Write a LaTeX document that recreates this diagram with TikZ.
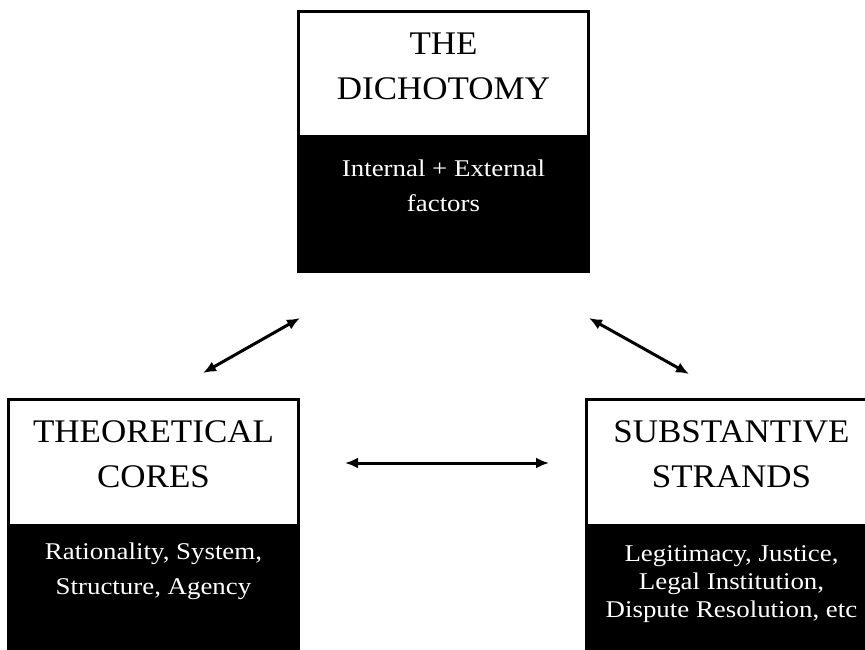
\documentclass[tikz,border=0pt]{standalone}
\usepackage{fontspec}
\setmainfont{Liberation Serif}
\newfontfamily\headfont[FakeStretch=1.06]{Liberation Serif}
\newfontfamily\bodyfont[FakeStretch=1.12]{Liberation Serif}
\usetikzlibrary{positioning,arrows.meta}
\tikzset{
  headbox/.style={draw, line width=3pt, fill=white, minimum width=290pt, minimum height=125.5pt, inner sep=0pt, outer sep=0pt},
  footbox/.style={draw, line width=3pt, fill=black, minimum width=290pt, minimum height=134pt, inner sep=0pt, outer sep=0pt},
  headtext/.style={inner sep=0pt, align=center, font=\headfont\fontsize{33}{45}\selectfont},
  foottext/.style={inner sep=0pt, align=center, text=white, font=\bodyfont\fontsize{24}{35}\selectfont},
  link/.style={{Latex[length=13pt,width=11pt]}-{Latex[length=13pt,width=11pt]}, line width=3pt}
}

\begin{document}
\begin{tikzpicture}[x=1pt,y=-1pt]
\clip (0,0) rectangle (865,650);
% boxes
\node[headbox] (dich) at (443.5,74.25) {}; \node[footbox, below=0pt of dich] (dichfoot) {};
\node[headbox] (core) at (153.5,462.25) {}; \node[footbox, below=0pt of core] (corefoot) {};
\node[headbox] (strand) at (731.5,462.25) {}; \node[footbox, below=0pt of strand] (strandfoot) {};
% texts
\node[headtext, below=21.5pt of dich.north] (dichname) {THE\\DICHOTOMY};
\node[headtext, below=20.5pt of core.north] (corename) {THEORETICAL\\CORES};
\node[headtext, below=20.5pt of strand.north] (strandname) {SUBSTANTIVE\\STRANDS};
\node[foottext, below=23pt of dichfoot.north] (dichlist) {Internal + External\\factors};
\node[foottext, below=18pt of corefoot.north] (corelist) {Rationality, System,\\Structure, Agency};
\node[foottext, font=\bodyfont\fontsize{24}{28}\selectfont, below=20pt of strandfoot.north] (strandlist) {Legitimacy, Justice,\\Legal Institution,\\Dispute Resolution, etc};
% arrows
\coordinate (dl) at (300,318); \coordinate (cl) at (203,373);
\coordinate (dr) at (589,318); \coordinate (sr) at (689,374);
\coordinate (ch) at (345,463); \coordinate (sh) at (549,463);
\draw[link] (cl) -- (dl); \draw[link] (dr) -- (sr); \draw[link] (ch) -- (sh);
\end{tikzpicture}
\end{document}
